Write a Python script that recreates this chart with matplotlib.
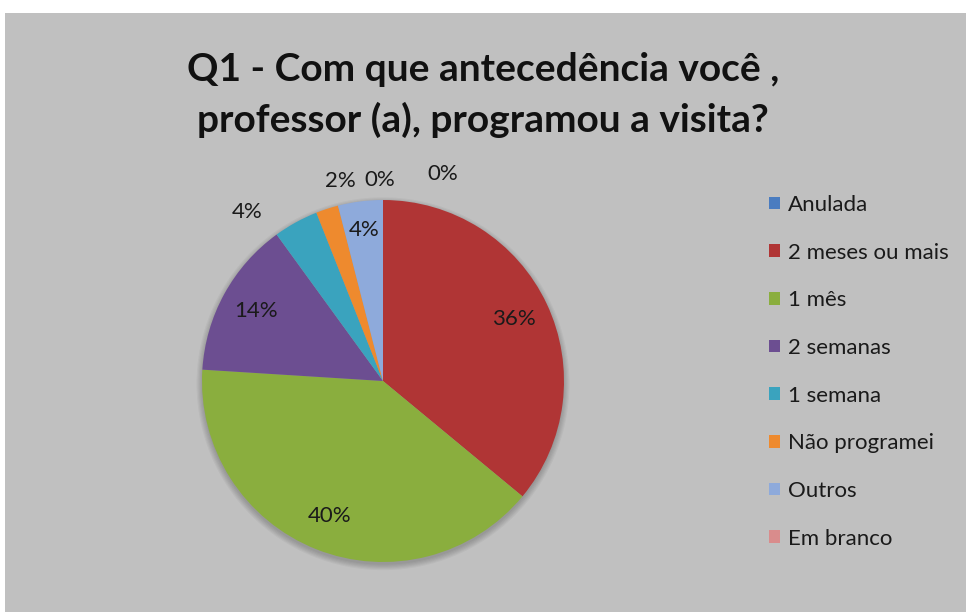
import matplotlib
matplotlib.use("Agg")
import matplotlib.pyplot as plt
import numpy as np
from matplotlib.patches import Rectangle, Patch, Circle

# chart data
labels = ["Anulada", "2 meses ou mais", "1 mês", "2 semanas", "1 semana",
          "Não programei", "Outros", "Em branco"]
values = [0, 36, 40, 14, 4, 2, 4, 0]
colors = ["#4a7cc0", "#b03535", "#8aae3e", "#6c4e91", "#3aa3be",
          "#ee8a2e", "#8eaadb", "#d98c8c"]

# label placement: radial distance (x radius) and angle nudge (deg, clockwise)
lbl_dist = [1.19, 0.80, 0.80, 0.80, 1.20, 1.13, 0.84, 1.11]
lbl_nudge = [16, 0, 0, 0, -10, 6, 0, -1]

title = "Q1 - Com que antecedência você ,\nprofessor (a), programou a visita?"

plt.rcParams['font.family'] = ['Lato', 'DejaVu Sans']

W, H = 966, 612
fig = plt.figure(figsize=(W / 100, H / 100), dpi=100, facecolor="white")
fig.patches.append(Rectangle((5 / W, 0), 1, 1 - 13 / H, transform=fig.transFigure,
                             facecolor="#c0c0c0", edgecolor="none", zorder=-5))

cx, cy, r = 383, 381, 181
ax = fig.add_axes([(cx - r) / W, (H - cy - r) / H, 2 * r / W, 2 * r / H])
ax.set_zorder(2)
ax.patch.set_visible(False)

# soft shadow under the pie
for k in range(6):
    ax.add_patch(Circle((0, -0.015), 1.0 + 0.006 * k, facecolor="#000000",
                        alpha=0.035, edgecolor="none", zorder=0, clip_on=False))

wedges, _ = ax.pie(values, colors=colors, startangle=90, counterclock=False,
                   radius=1, wedgeprops=dict(linewidth=0, zorder=1))
ax.set_xlim(-1, 1)
ax.set_ylim(-1, 1)
ax.axis("off")

for w, v, d, n in zip(wedges, values, lbl_dist, lbl_nudge):
    mid = np.deg2rad((w.theta1 + w.theta2) / 2 - n)
    ax.text(d * np.cos(mid), d * np.sin(mid), f"{v}%", ha="center", va="center",
            fontsize=16, color="#1a1a1a", clip_on=False, zorder=3)

fig.text(0.5, 1 - 95 / H, title, ha="center", va="center", fontsize=28,
         fontweight="bold", color="#111111", linespacing=1.5)

handles = [Patch(facecolor=c, edgecolor="none") for c in colors]
fig.legend(handles, labels, loc="upper left", bbox_to_anchor=(749 / W, 1 - 175 / H),
           frameon=False, fontsize=16, labelspacing=1.245, handlelength=0.5,
           handleheight=0.5, handletextpad=0.35, labelcolor="#1a1a1a")

fig.savefig("out.png", dpi=100, facecolor="white")
